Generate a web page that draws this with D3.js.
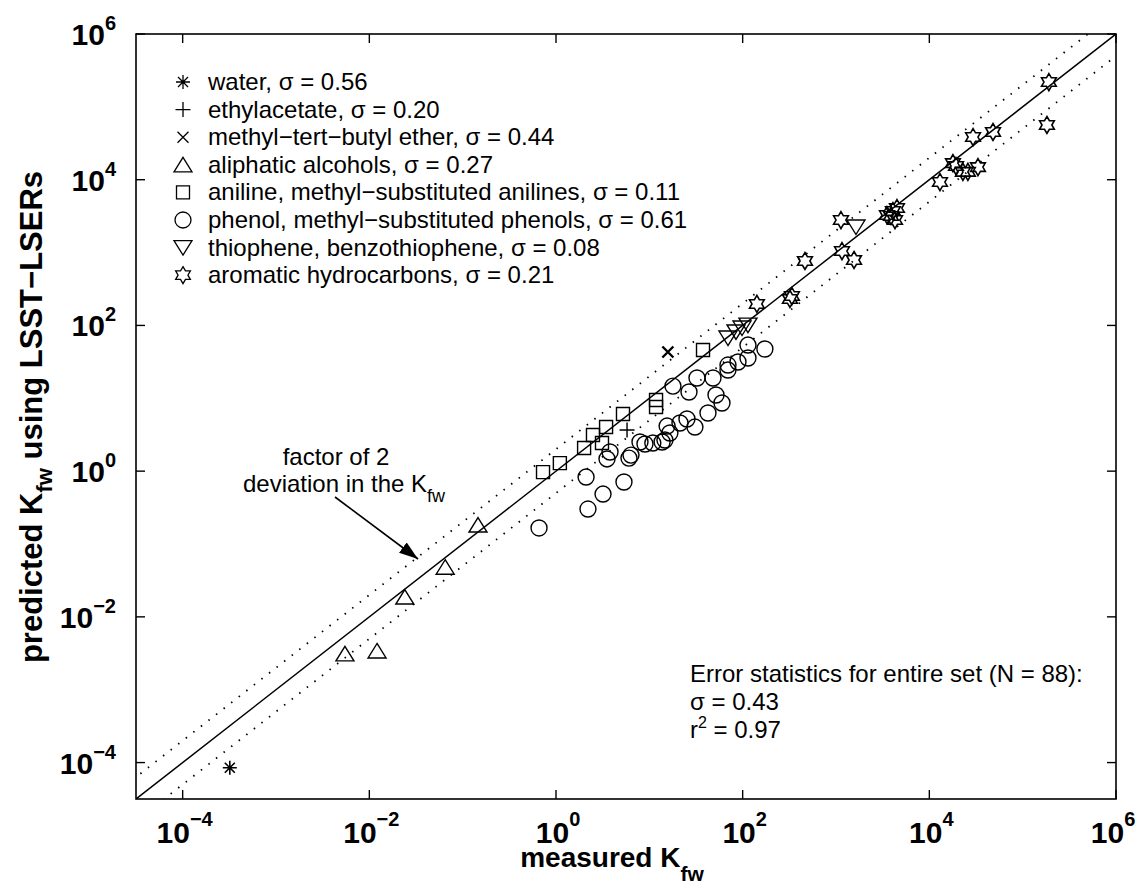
<!DOCTYPE html>
<html><head><meta charset="utf-8">
<script src="https://cdn.jsdelivr.net/npm/d3@7"></script>
<style>
body{margin:0;background:#fff;}
text{font-family:"Liberation Sans",Arial,Helvetica,sans-serif;fill:#000;}
</style>
</head><body>
<svg id="chart" width="1142" height="891"></svg>
<script>
// ---------------- data ----------------
const tickValues = [1e-4, 1e-2, 1e0, 1e2, 1e4, 1e6];
const tickExponents = ["\u22124", "\u22122", "0", "2", "4", "6"];

const water = [[3.2e-4, 8.5e-5]];
const ethylacetate = [[5.77, 3.67]];
const mtbe = [[15.8, 43.2]];
const alcohols = [[0.146, 0.182], [0.065, 0.048], [0.024, 0.0187], [0.00548, 0.0031], [0.0121, 0.0034]];
const anilines = [[37.6, 46.0], [11.8, 9.47], [11.8, 7.59], [5.22, 6.08], [3.44, 4.03], [2.49, 3.13],
                  [3.11, 2.43], [2.00, 2.08], [1.10, 1.29], [0.726, 0.97]];
const phenols = [[173, 47.5], [114, 53.8], [114, 35.7], [89.1, 31.5], [69.6, 28.6], [69.6, 24.4],
                 [48.1, 19.0], [32.4, 19.0], [26.6, 12.2], [17.9, 14.7], [51.8, 11.1], [60.0, 8.61],
                 [42.5, 6.28], [25.3, 5.20], [30.8, 4.03], [21.3, 4.58], [15.5, 4.16], [16.6, 3.34],
                 [14.7, 2.67], [10.9, 2.43], [8.98, 2.36], [7.94, 2.51], [6.05, 1.51], [6.36, 1.66],
                 [3.79, 1.83], [3.52, 1.47], [2.10, 0.83], [5.35, 0.71], [3.19, 0.485], [2.20, 0.302],
                 [0.658, 0.166], [13.7, 2.51]];
const thiophenes = [[69.6, 67.2], [84.8, 81.3], [98.4, 92.2], [114, 101], [1637, 2244]];
const aromatics = [[142, 197], [337, 253], [321, 231], [465, 766], [1130, 2797], [1159, 1050],
                   [1560, 791], [3516, 3275], [4074, 3717], [4498, 4087], [4285, 2797], [3882, 3177],
                   [13000, 9290], [17900, 16900], [19300, 15400], [22900, 12800], [25900, 12800],
                   [33200, 14900], [29400, 38500], [48100, 45200], [191000, 219000], [182000, 56400]];

const legendLabels = ["water, \u03c3 = 0.56", "ethylacetate, \u03c3 = 0.20", "methyl\u2212tert\u2212butyl ether, \u03c3 = 0.44",
  "aliphatic alcohols, \u03c3 = 0.27", "aniline, methyl\u2212substituted anilines, \u03c3 = 0.11",
  "phenol, methyl\u2212substituted phenols, \u03c3 = 0.61", "thiophene, benzothiophene, \u03c3 = 0.08",
  "aromatic hydrocarbons, \u03c3 = 0.21"];
const statsLines = ["Error statistics for entire set (N = 88):", "\u03c3 = 0.43", "r^2 = 0.97"];
const deviationFactor = 2;

// ---------------- layout ----------------
const L = 136, R = 1116, T = 34, B = 799;
const svg = d3.select("#chart");
const x = d3.scaleLog().domain([Math.pow(10, -4.5), 1e6]).range([L, R]);
const y = d3.scaleLog().domain([Math.pow(10, -4.5), 1e6]).range([B, T]);

const defs = svg.append("defs");
defs.append("clipPath").attr("id", "clip")
  .append("rect").attr("x", L).attr("y", T).attr("width", R - L).attr("height", B - T);

// ---------------- marker shapes ----------------
function mk(fn) { return { draw(ctx, size) { fn(ctx, Math.sqrt(size) / 8); } }; }
const shapes = {
  asterisk: mk((c, k) => { const a = 7 * k, b = 5 * k;
    c.moveTo(-a, 0); c.lineTo(a, 0); c.moveTo(0, -a); c.lineTo(0, a);
    c.moveTo(-b, -b); c.lineTo(b, b); c.moveTo(-b, b); c.lineTo(b, -b); }),
  plus: mk((c, k) => { const a = 7.5 * k; c.moveTo(-a, 0); c.lineTo(a, 0); c.moveTo(0, -a); c.lineTo(0, a); }),
  cross: mk((c, k) => { const a = 5.5 * k; c.moveTo(-a, -a); c.lineTo(a, a); c.moveTo(-a, a); c.lineTo(a, -a); }),
  triUp: mk((c, k) => { c.moveTo(0, -7.5 * k); c.lineTo(9 * k, 7 * k); c.lineTo(-9 * k, 7 * k); c.closePath(); }),
  triDown: mk((c, k) => { c.moveTo(0, 7.5 * k); c.lineTo(9 * k, -7 * k); c.lineTo(-9 * k, -7 * k); c.closePath(); }),
  square: mk((c, k) => { const a = 6.5 * k; c.rect(-a, -a, 2 * a, 2 * a); }),
  circle: mk((c, k) => { const r = 8 * k; c.moveTo(r, 0); c.arc(0, 0, r, 0, 2 * Math.PI); }),
  hexagram: mk((c, k) => { const Ro = 8.5 * k, Ri = Ro / Math.sqrt(3);
    for (let i = 0; i < 12; i++) { const ang = -Math.PI / 2 + i * Math.PI / 6; const rr = i % 2 ? Ri : Ro;
      const px = rr * Math.cos(ang), py = rr * Math.sin(ang); if (i === 0) c.moveTo(px, py); else c.lineTo(px, py); }
    c.closePath(); })
};
const series = [
  { data: water, shape: shapes.asterisk, w: 1.6 },
  { data: ethylacetate, shape: shapes.plus, w: 1.4 },
  { data: mtbe, shape: shapes.cross, w: 2.4 },
  { data: alcohols, shape: shapes.triUp, w: 1.4 },
  { data: anilines, shape: shapes.square, w: 1.4 },
  { data: phenols, shape: shapes.circle, w: 1.4 },
  { data: thiophenes, shape: shapes.triDown, w: 1.4 },
  { data: aromatics, shape: shapes.hexagram, w: 1.6 }
];
const sym = t => d3.symbol().type(t).size(64)();

// ---------------- reference lines ----------------
const lo = Math.pow(10, -4.5), hi = 1e6;
const gLines = svg.append("g").attr("clip-path", "url(#clip)");
const line = d3.line().x(d => x(d[0])).y(d => y(d[1]));
gLines.append("path").attr("d", line([[lo, lo], [hi, hi]]))
  .attr("stroke", "#000").attr("stroke-width", 1.5).attr("fill", "none");
[deviationFactor, 1 / deviationFactor].forEach(f => {
  gLines.append("path").attr("d", line([[lo / 4, lo / 4 * f], [hi * 4, hi * 4 * f]]))
    .attr("stroke", "#000").attr("stroke-width", 1.8).attr("fill", "none")
    .attr("stroke-dasharray", "1.5,8.1");
});

// ---------------- points ----------------
const gPts = svg.append("g").attr("clip-path", "url(#clip)");
series.forEach(s => {
  gPts.selectAll(null).data(s.data).enter().append("path")
    .attr("d", sym(s.shape))
    .attr("transform", d => `translate(${x(d[0])},${y(d[1])})`)
    .attr("fill", "none").attr("stroke", "#000").attr("stroke-width", s.w);
});

// ---------------- frame & ticks ----------------
svg.append("rect").attr("x", L).attr("y", T).attr("width", R - L).attr("height", B - T)
  .attr("fill", "none").attr("stroke", "#000").attr("stroke-width", 1.6);
const tl = 9;
tickValues.forEach((v, i) => {
  const px = x(v), py = y(v);
  if (px >= L && px <= R) {
    svg.append("line").attr("x1", px).attr("x2", px).attr("y1", B).attr("y2", B - tl).attr("stroke", "#000").attr("stroke-width", 1.4);
    svg.append("line").attr("x1", px).attr("x2", px).attr("y1", T).attr("y2", T + tl).attr("stroke", "#000").attr("stroke-width", 1.4);
    const t = svg.append("text").attr("x", Math.min(px + 2, 1113)).attr("y", 843).attr("text-anchor", "middle")
      .attr("font-weight", "bold").attr("font-size", 30);
    t.append("tspan").text("10");
    t.append("tspan").attr("dy", -17).attr("font-size", 20).text(tickExponents[i]);
  }
  if (py >= T - 1 && py <= B) {
    svg.append("line").attr("y1", py).attr("y2", py).attr("x1", L).attr("x2", L + tl).attr("stroke", "#000").attr("stroke-width", 1.4);
    svg.append("line").attr("y1", py).attr("y2", py).attr("x1", R).attr("x2", R - tl).attr("stroke", "#000").attr("stroke-width", 1.4);
    const t = svg.append("text").attr("x", 116).attr("y", py + 11).attr("text-anchor", "end")
      .attr("font-weight", "bold").attr("font-size", 30);
    t.append("tspan").text("10");
    t.append("tspan").attr("dy", -15).attr("font-size", 20).text(tickExponents[i]);
  }
});

// ---------------- axis labels ----------------
const xl = svg.append("text").attr("x", 612).attr("y", 867).attr("text-anchor", "middle")
  .attr("font-weight", "bold").attr("font-size", 28);
xl.append("tspan").text("measured K");
xl.append("tspan").attr("dy", 14).attr("font-size", 21).text("fw");

const yl = svg.append("text").attr("transform", "translate(42,417) rotate(-90)").attr("text-anchor", "middle")
  .attr("font-weight", "bold").attr("font-size", 31);
yl.append("tspan").text("predicted K");
yl.append("tspan").attr("dy", 10).attr("font-size", 22).text("fw");
yl.append("tspan").attr("dy", -10).text(" using LSST\u2212LSERs");

// ---------------- legend ----------------
const lg = svg.append("g");
legendLabels.forEach((lab, i) => {
  const cy = 82 + i * 27.6;
  lg.append("path").attr("d", sym(series[i].shape)).attr("transform", `translate(183,${cy})`)
    .attr("fill", "none").attr("stroke", "#000").attr("stroke-width", 1.3);
  lg.append("text").attr("x", 208).attr("y", cy + 8).attr("font-size", 24).text(lab);
});

// ---------------- annotation ----------------
const ann = svg.append("text").attr("text-anchor", "middle").attr("font-size", 24);
ann.append("tspan").attr("x", 336).attr("y", 465).text("factor of 2");
const ann2 = svg.append("text").attr("text-anchor", "middle").attr("font-size", 24).attr("x", 344).attr("y", 492);
ann2.append("tspan").text("deviation in the K");
ann2.append("tspan").attr("dy", 10).attr("font-size", 18).text("fw");

defs.append("marker").attr("id", "ah").attr("viewBox", "0 0 10 10").attr("preserveAspectRatio", "none")
  .attr("refX", 10).attr("refY", 5).attr("markerWidth", 19).attr("markerHeight", 13)
  .attr("markerUnits", "userSpaceOnUse").attr("orient", "auto")
  .append("path").attr("d", "M0,0 L10,5 L0,10 Z").attr("fill", "#000");
svg.append("line").attr("x1", 335).attr("y1", 497).attr("x2", 418).attr("y2", 559)
  .attr("stroke", "#000").attr("stroke-width", 1.6).attr("marker-end", "url(#ah)");

// ---------------- stats ----------------
statsLines.forEach((s, i) => {
  const t = svg.append("text").attr("x", 690).attr("y", 682 + i * 28).attr("font-size", 24);
  if (s.startsWith("r^2")) {
    t.append("tspan").text("r");
    t.append("tspan").attr("dy", -10).attr("font-size", 16).text("2");
    t.append("tspan").attr("dy", 10).text(s.slice(3));
  } else t.text(s);
});
</script>
</body></html>
